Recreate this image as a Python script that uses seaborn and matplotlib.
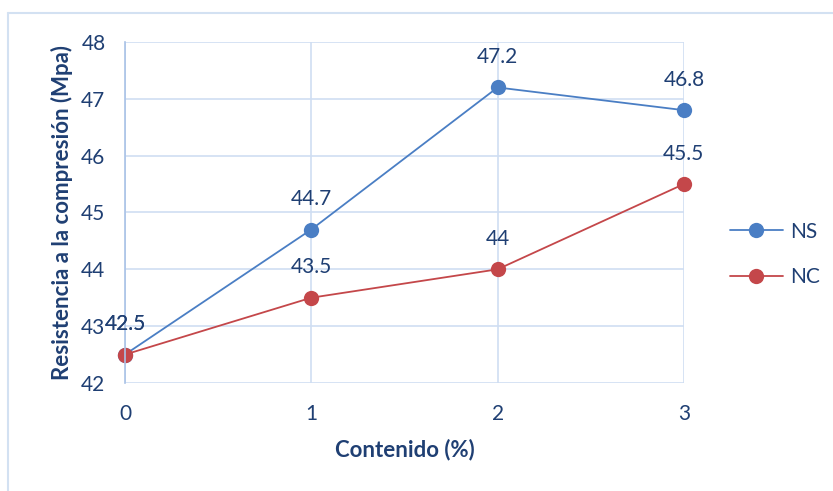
import matplotlib
matplotlib.use("Agg")
import matplotlib.pyplot as plt
import matplotlib.lines as mlines
import pandas as pd
import seaborn as sns

# Data
contenido = [0, 1, 2, 3]
ns_values = [42.5, 44.7, 47.2, 46.8]
nc_values = [42.5, 43.5, 44.0, 45.5]
series_names = ["NS", "NC"]
y_ticks = [42, 43, 44, 45, 46, 47, 48]

df = pd.DataFrame({
    "Contenido": contenido * 2,
    "Resistencia": ns_values + nc_values,
    "Serie": [series_names[0]] * 4 + [series_names[1]] * 4,
})

sns.set_theme(style="white")
plt.rcParams["font.family"] = ["Lato", "DejaVu Sans"]

TEXT = "#1f3f73"
GRID = "#cfdef2"
FS = 15
palette = {"NS": "#4a7ec4", "NC": "#c4474a"}

fig = plt.figure(figsize=(8.33, 4.91), dpi=100)
ax = fig.add_axes([0.150, 0.220, 0.671, 0.6945])

sns.lineplot(data=df, x="Contenido", y="Resistencia", hue="Serie",
             palette=palette, marker="o", markersize=11, linewidth=1.3,
             markeredgewidth=0, ax=ax, legend=False)

ax.set_xlim(0, 3)
ax.set_ylim(42, 48)
ax.set_xticks(contenido)
ax.set_yticks(y_ticks)
ax.grid(True, color=GRID, linewidth=1.2)
ax.set_axisbelow(True)
for side in ["top", "right", "bottom"]:
    ax.spines[side].set_visible(False)
ax.spines["left"].set_color("#a9c2e6")
ax.spines["left"].set_linewidth(1.2)
ax.tick_params(axis="both", length=0, labelsize=FS, labelcolor=TEXT)
ax.tick_params(axis="y", pad=14)
ax.tick_params(axis="x", pad=15)

ax.set_xlabel("Contenido (%)", fontsize=16, fontweight="bold", color=TEXT, labelpad=11)
ax.set_ylabel("Resistencia a la compresión (Mpa)", fontsize=16, fontweight="bold",
              color=TEXT, labelpad=6)

# Value labels above each point
for vals in (ns_values, nc_values):
    for x, y in zip(contenido, vals):
        ax.annotate(f"{y:g}", (x, y), xytext=(0, 22), textcoords="offset points",
                    ha="center", va="center", fontsize=FS, color=TEXT,
                    annotation_clip=False)
for line in ax.lines:
    line.set_clip_on(False)

# Legend
handles = [mlines.Line2D([], [], color=palette[s], marker="o", markersize=11,
                         markeredgewidth=0, linewidth=1.3, label=s)
           for s in series_names]
fig.legend(handles=handles, loc="center left", bbox_to_anchor=(0.876, 0.4817),
           frameon=False, fontsize=FS, labelcolor=TEXT, handlelength=2.55,
           handletextpad=0.33, labelspacing=1.24, borderpad=0, borderaxespad=0)

# Chart area border (top and left)
fig.add_artist(mlines.Line2D([0.0096, 1.0], [0.9735, 0.9735], color="#d3e1f2",
                             linewidth=1.5, transform=fig.transFigure))
fig.add_artist(mlines.Line2D([0.0096, 0.0096], [0.0, 0.9735], color="#d3e1f2",
                             linewidth=1.5, transform=fig.transFigure))

fig.savefig("out.png", dpi=100)
